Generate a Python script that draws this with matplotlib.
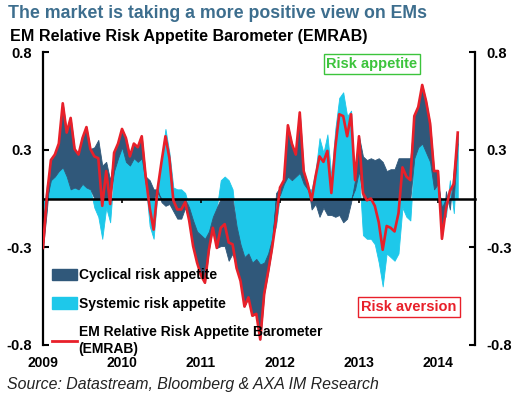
import numpy as np
import matplotlib
matplotlib.use("Agg")
import matplotlib.pyplot as plt
from matplotlib.patches import Patch
from matplotlib.lines import Line2D

plt.rcParams['font.family'] = ['Liberation Sans', 'DejaVu Sans']

# time axis: one reading every 0.05 year, 2009.00 .. 2014.25
t_start, t_step = 2009.0, 0.05

emrab = [-0.27, 0.02, 0.21, 0.24, 0.30, 0.52, 0.36, 0.44, 0.27, 0.24,
         0.33, 0.39, 0.27, 0.23, 0.22, -0.04, 0.15, -0.03, 0.25, 0.30,
         0.38, 0.33, 0.23, 0.30, 0.28, 0.34, 0.12, -0.05, -0.17, 0.05,
         0.20, 0.34, 0.22, -0.01, -0.06, -0.06, -0.02, -0.12, -0.26, -0.35,
         -0.42, -0.46, -0.28, -0.16, -0.27, -0.16, -0.14, -0.24, -0.25, -0.38,
         -0.45, -0.59, -0.54, -0.64, -0.63, -0.77, -0.52, -0.40, -0.27, -0.12,
         0.06, 0.10, 0.40, 0.30, 0.24, 0.47, 0.15, 0.08, -0.01, 0.12,
         0.23, 0.20, 0.26, 0.03, 0.28, 0.46, 0.45, 0.34, 0.46, 0.10,
         0.34, 0.03, -0.01, 0.00, -0.04, -0.13, -0.28, -0.15, -0.16, -0.18,
         -0.08, 0.17, 0.12, 0.10, 0.45, 0.50, 0.62, 0.53, 0.41, 0.15,
         0.15, -0.22, -0.06, 0.04, 0.08, 0.36]

systemic = [-0.10, 0.08, 0.10, 0.12, 0.15, 0.17, 0.12, 0.05, 0.06, 0.05,
            0.08, 0.06, 0.05, -0.05, -0.10, -0.22, -0.05, -0.13, 0.15, 0.22,
            0.28, 0.20, 0.18, 0.22, 0.20, 0.22, 0.08, -0.15, -0.22, 0.03,
            0.22, 0.38, 0.25, 0.06, 0.05, 0.05, 0.03, -0.05, -0.12, -0.18,
            -0.20, -0.22, -0.18, -0.10, -0.05, 0.10, 0.12, 0.10, 0.05, -0.15,
            -0.25, -0.32, -0.30, -0.35, -0.33, -0.36, -0.35, -0.30, -0.22, -0.15,
            0.02, 0.08, 0.12, 0.10, 0.12, 0.14, 0.08, 0.05, 0.05, 0.15,
            0.33, 0.25, 0.35, 0.12, 0.38, 0.55, 0.58, 0.45, 0.48, 0.05,
            0.15, -0.20, -0.22, -0.22, -0.25, -0.35, -0.48, -0.30, -0.32, -0.34,
            -0.30, -0.05, -0.10, -0.12, 0.22, 0.28, 0.30, 0.25, 0.20, 0.05,
            0.08, -0.05, -0.10, 0.10, -0.08, 0.30]

cyclical = [-0.17, -0.06, 0.11, 0.12, 0.15, 0.35, 0.24, 0.39, 0.21, 0.19,
            0.25, 0.33, 0.22, 0.28, 0.32, 0.18, 0.20, 0.10, 0.10, 0.08,
            0.10, 0.13, 0.05, 0.08, 0.08, 0.12, 0.04, 0.10, 0.05, 0.02,
            -0.02, -0.04, -0.03, -0.07, -0.11, -0.11, -0.05, -0.07, -0.14, -0.17,
            -0.22, -0.24, -0.10, -0.06, -0.22, -0.26, -0.26, -0.34, -0.30, -0.23,
            -0.20, -0.27, -0.24, -0.29, -0.30, -0.41, -0.17, -0.10, -0.05, 0.03,
            0.04, 0.02, 0.28, 0.20, 0.12, 0.33, 0.07, 0.03, -0.06, -0.03,
            -0.10, -0.05, -0.09, -0.09, -0.10, -0.09, -0.13, -0.11, -0.02, 0.05,
            0.19, 0.23, 0.21, 0.22, 0.21, 0.22, 0.20, 0.15, 0.16, 0.16,
            0.22, 0.22, 0.22, 0.22, 0.23, 0.22, 0.32, 0.28, 0.21, 0.10,
            0.07, -0.17, 0.04, -0.06, 0.16, 0.06]

years = [2009, 2010, 2011, 2012, 2013, 2014]

DARK = '#30587a'
CYAN = '#1ec8ea'
RED = '#e8202a'

W, H = 518, 398
fig = plt.figure(figsize=(W / 100, H / 100), dpi=100)
ax = fig.add_axes([43 / W, 1 - 345 / H, 432 / W, 293 / H])

t = t_start + t_step * np.arange(len(emrab))
s = np.array(systemic)
c = np.array(cyclical)

# excel-style stacking: cyan next to zero, dark on top when same sign
same = np.sign(s) == np.sign(c)
c_base = np.where(same, s, 0.0)

ax.fill_between(t, 0, s, color=CYAN, lw=0.6, ec=CYAN, zorder=1)
ax.fill_between(t, c_base, c_base + c, color=DARK, lw=0.6, ec=DARK, zorder=1.2)
ax.plot(t, emrab, color=RED, lw=1.9, zorder=3)

ax.set_xlim(2009, 2009 + 432 / 79)
ax.set_ylim(-0.8, 0.8)

yt = np.linspace(-0.8, 0.8, 4)
ax.set_yticks(yt)
ax.set_yticklabels(['%.1f' % v for v in yt], fontsize=10.5, fontweight='bold')
ax.tick_params(axis='y', direction='in', length=4, width=1.5, pad=8,
               left=True, right=True, labelleft=True, labelright=True)

for side in ['left', 'right']:
    ax.spines[side].set_linewidth(1.6)
ax.spines['top'].set_visible(False)
ax.spines['bottom'].set_position(('data', 0))
ax.spines['bottom'].set_linewidth(1.8)
ax.spines['bottom'].set_zorder(2.5)

ax.set_xticks(years)
ax.tick_params(axis='x', direction='out', length=3, width=1.2, labelbottom=False)

sec = ax.secondary_xaxis('bottom')
sec.set_xticks(years)
sec.set_xticklabels([str(y) for y in years], fontsize=10, fontweight='bold')
sec.tick_params(length=0, pad=8)
sec.spines['bottom'].set_visible(False)

handles = [Patch(color=DARK), Patch(color=CYAN), Line2D([], [], color=RED, lw=2)]
labels = ['Cyclical risk appetite', 'Systemic risk appetite',
          'EM Relative Risk Appetite Barometer\n(EMRAB)']
leg = ax.legend(handles, labels, loc='upper left', bbox_to_anchor=(0.02, 0.262),
                frameon=False, prop={'size': 10, 'weight': 'bold'},
                handlelength=1.8, handleheight=0.9, handletextpad=0.15,
                labelspacing=1.05, borderpad=0, borderaxespad=0)
leg.set_zorder(5)

t1 = fig.text(372 / W, 1 - 64 / H, 'Risk appetite', fontsize=10.5, fontweight='bold',
              color='#3cc43c', ha='center', va='center')
t1.set_bbox(dict(boxstyle='square,pad=0.2', fc='white', ec='#3cc43c', lw=1))
t2 = fig.text(409 / W, 1 - 307 / H, 'Risk aversion', fontsize=10.5, fontweight='bold',
              color=RED, ha='center', va='center')
t2.set_bbox(dict(boxstyle='square,pad=0.2', fc='white', ec=RED, lw=1))

fig.text(8 / W, 1 - 14 / H, 'The market is taking a more positive view on EMs',
         fontsize=12.8, fontweight='bold', color='#3d6e8e', va='center', ha='left')
fig.text(10 / W, 1 - 36 / H, 'EM Relative Risk Appetite Barometer (EMRAB)',
         fontsize=11.6, fontweight='bold', color='black', va='center', ha='left')
fig.text(7 / W, 1 - 385 / H, 'Source: Datastream, Bloomberg & AXA IM Research',
         fontsize=11.4, style='italic', color='#222222', va='center', ha='left')

fig.savefig('out.png', dpi=100)
